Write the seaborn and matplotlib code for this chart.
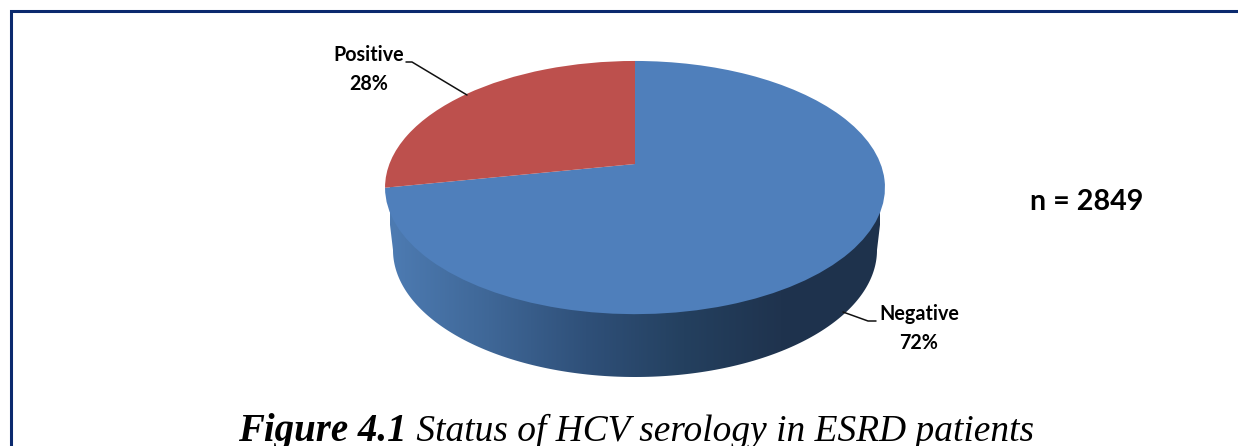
import numpy as np
import matplotlib
matplotlib.use("Agg")
import matplotlib.pyplot as plt
import seaborn as sns
from matplotlib.colors import LinearSegmentedColormap
from matplotlib.patches import Polygon
from matplotlib.transforms import Transform

categories = ["Negative", "Positive"]
shares = [72, 28]
pie_colors = ["#4F7FBB", "#BD504D"]
side_colors = ["#4D7BB2", "#3F6797", "#2F5079", "#24405F", "#1F334E", "#1E324C"]
sample_note = "n = 2849"
caption_bold = "Figure 4.1"
caption_rest = " Status of HCV serology in ESRD patients"


class TiltTransform(Transform):
    # unit circle -> tilted disc in pixel coordinates
    input_dims = output_dims = 2
    has_inverse = False

    def transform_non_affine(self, values):
        x, y = values[:, 0], values[:, 1]
        w = 1 + 0.186 * y
        return np.column_stack([635 + 245.6 * x / w, (164 - 91.7 * y) / w])


sns.set_theme(style="white")

fig = plt.figure(figsize=(12.38, 4.46), dpi=100)
ax = fig.add_axes([0, 0, 1, 1])

wedges, _ = ax.pie(shares, colors=pie_colors, startangle=90, counterclock=False,
                   wedgeprops=dict(edgecolor="none", linewidth=0))
tilt = TiltTransform() + ax.transData
for w in wedges:
    w.set_transform(tilt)
    w.set_zorder(3)
ax.set_aspect("auto")

# side of the disc, shaded left to right
t = np.linspace(0, np.pi, 200)
side_edge = np.column_stack([635 + 242 * np.cos(t), 250 + 127 * np.sin(t)])
side_edge = np.vstack([[884.5, 187], side_edge, [385.5, 187]])
side = Polygon(side_edge, closed=True, facecolor="none", edgecolor="none")
ax.add_patch(side)
cmap = LinearSegmentedColormap.from_list("side", side_colors)
img = ax.imshow(np.linspace(0, 1, 256).reshape(1, -1), cmap=cmap, aspect="auto",
                extent=[390, 880, 380, 180], zorder=2)
img.set_clip_path(side)

ax.set_xlim(0, 1238)
ax.set_ylim(446, 0)
ax.axis("on")
ax.set_xticks([])
ax.set_yticks([])
for s in ax.spines.values():
    s.set_visible(False)

# frame, only left and top show
ax.plot([11, 11, 1238], [446, 11, 11], color="#0B2A6E", lw=2.2, zorder=5,
        solid_joinstyle="miter")

ax.plot([406, 412, 467], [62, 62, 95], color="#111111", lw=1.1, zorder=4)
ax.plot([843, 868, 876], [312, 321, 321], color="#111111", lw=1.1, zorder=4)

label_font = dict(family="Lato", fontweight="bold", color="black",
                  ha="center", va="center", linespacing=1.55)
ax.text(368.5, 69.5, f"{categories[1]}\n{shares[1]}%", fontsize=14.2, **label_font)
ax.text(919, 328.5, f"{categories[0]}\n{shares[0]}%", fontsize=14.2, **label_font)
ax.text(1087, 202, sample_note, family="Lato", fontweight="bold", fontsize=20.6,
        color="black", ha="center", va="center")

cap = ax.text(238, 441, caption_bold, family="Liberation Serif", style="italic",
              fontweight="bold", fontsize=28, color="black", ha="left", va="baseline")
fig.canvas.draw()
cap_end = cap.get_window_extent().x1
ax.annotate(caption_rest, xy=(cap_end, 5), xycoords="figure pixels", family="Liberation Serif",
            style="italic", fontsize=26.9, color="black", ha="left", va="baseline")

fig.savefig("out.png", dpi=100)
